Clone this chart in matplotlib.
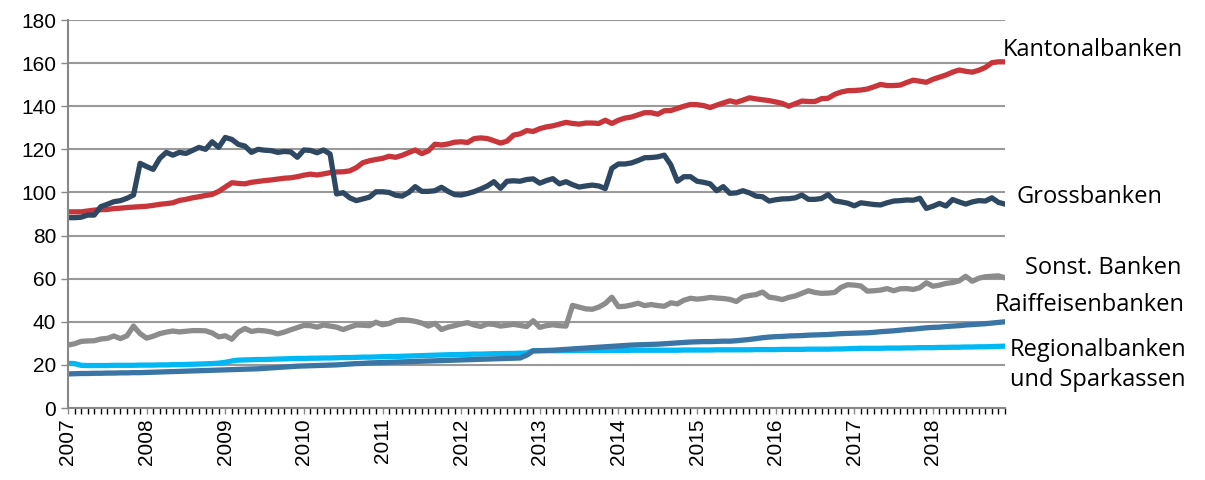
import numpy as np
import matplotlib
matplotlib.use('Agg')
import matplotlib.pyplot as plt

# monthly index values, Jan 2007 - Dec 2018
years = list(range(2007, 2019))

kantonal = [
    91, 91, 91, 91.4, 91.8, 92, 92.1, 92.5, 92.7, 93, 93.2, 93.4,
    93.6, 94, 94.5, 94.8, 95.2, 96.3, 96.8, 97.5, 98, 98.6, 99.1, 100.5,
    102.5, 104.5, 104.2, 104, 104.7, 105.1, 105.5, 105.8, 106.2, 106.6, 106.8, 107.3,
    108, 108.5, 108.1, 108.6, 109.2, 109.5, 109.6, 110, 111.5, 113.8, 114.7, 115.3,
    115.8, 116.8, 116.3, 117.2, 118.5, 119.7, 118, 119.3, 122.4, 122, 122.5, 123.3,
    123.5, 123.2, 125, 125.3, 125, 124, 122.9, 123.8, 126.6, 127.2, 128.7, 128.3,
    129.6, 130.4, 130.9, 131.7, 132.5, 132, 131.7, 132.2, 132.2, 132, 133.5, 132,
    133.5, 134.5, 135, 136, 137, 137, 136.3, 137.9, 138, 139, 140, 140.8,
    140.7, 140.3, 139.4, 140.5, 141.5, 142.5, 141.8, 142.8, 143.9, 143.4, 143, 142.6,
    142, 141.3, 140, 141.2, 142.4, 142.2, 142.2, 143.5, 143.7, 145.5, 146.6, 147.2,
    147.3, 147.5, 148, 149, 150.1, 149.6, 149.6, 149.8, 151, 152.1, 151.6, 151.1,
    152.5, 153.5, 154.5, 155.8, 156.8, 156.2, 155.8, 156.7, 158, 160.2, 160.6, 160.6,
]

gross = [
    88.3, 88.3, 88.5, 89.5, 89.5, 93.4, 94.5, 95.7, 96.2, 97.3, 98.8, 113.5,
    112, 110.7, 115.8, 118.6, 117.3, 118.6, 118.1, 119.5, 120.9, 120, 123.5, 120.9,
    125.5, 124.6, 122.3, 121.5, 118.6, 120, 119.6, 119.4, 118.6, 119, 118.8, 116.3,
    119.7, 119.5, 118.4, 119.7, 117.8, 99.3, 99.9, 97.5, 96.2, 97, 97.8, 100.3,
    100.3, 100, 98.7, 98.3, 100, 102.7, 100.5, 100.5, 100.8, 102.4, 100.5, 99,
    98.8, 99.5, 100.4, 101.6, 103, 105, 101.9, 105.2, 105.4, 105.2, 106, 106.3,
    104.3, 105.5, 106.4, 104, 105, 103.6, 102.5, 103, 103.4, 103, 101.8, 111.2,
    113.2, 113.2, 113.7, 114.8, 116.1, 116.2, 116.5, 117.3, 112.8, 105.2, 107.3, 107.3,
    105.2, 104.7, 104, 100.8, 102.7, 99.6, 99.8, 100.8, 99.8, 98.3, 98, 96,
    96.6, 97, 97.1, 97.5, 98.8, 96.8, 96.8, 97.2, 99, 96.1, 95.6, 95,
    93.8, 95.2, 94.8, 94.4, 94.2, 95.2, 96, 96.2, 96.5, 96.4, 97.3, 92.6,
    93.6, 94.9, 93.7, 96.7, 95.6, 94.6, 95.6, 96.2, 96, 97.5, 95.4, 94.6,
]

sonst = [
    29.2, 29.8, 30.9, 31.1, 31.2, 32, 32.3, 33.4, 32.2, 33.5, 38, 34.5,
    32.4, 33.3, 34.5, 35.2, 35.7, 35.3, 35.6, 35.9, 35.9, 35.8, 34.8, 33,
    33.5, 31.9, 35.2, 36.9, 35.5, 36, 35.8, 35.3, 34.4, 35.2, 36.3, 37.3,
    38.3, 38.2, 37.5, 38.5, 38, 37.5, 36.4, 37.5, 38.5, 38.4, 38.2, 39.8,
    38.6, 39.2, 40.5, 41, 40.7, 40.2, 39.4, 38, 39.3, 36.4, 37.5, 38.2,
    39, 39.6, 38.5, 37.8, 39, 38.8, 38, 38.4, 38.8, 38.3, 37.8, 40.5,
    37.4, 38.2, 38.6, 38.2, 38, 47.6, 46.8, 46, 45.8, 46.8, 48.5, 51.4,
    47, 47.2, 47.8, 48.6, 47.5, 48, 47.5, 47.2, 48.8, 48.3, 50, 50.9,
    50.5, 50.8, 51.3, 51, 50.8, 50.4, 49.4, 51.5, 52.2, 52.6, 53.8, 51.4,
    51, 50.3, 51.3, 52, 53.2, 54.4, 53.6, 53.2, 53.3, 53.6, 56, 57.2,
    57, 56.6, 54.2, 54.4, 54.7, 55.4, 54.4, 55.3, 55.4, 55, 55.8, 58.1,
    56.5, 57, 57.8, 58.2, 59, 61.1, 58.8, 60.2, 60.9, 61.1, 61.3, 60.4,
]

raiffeisen = [
    15.8, 15.9, 16, 16, 16.1, 16.1, 16.2, 16.2, 16.3, 16.3, 16.4, 16.4,
    16.5, 16.6, 16.7, 16.8, 16.9, 17, 17.1, 17.2, 17.3, 17.4, 17.5, 17.6,
    17.7, 17.8, 17.9, 18, 18.1, 18.2, 18.4, 18.6, 18.8, 19, 19.2, 19.4,
    19.5, 19.6, 19.7, 19.8, 19.9, 20, 20.2, 20.4, 20.6, 20.7, 20.9, 21,
    21.1, 21.2, 21.3, 21.4, 21.5, 21.6, 21.7, 21.8, 21.9, 22, 22.1, 22.2,
    22.3, 22.4, 22.5, 22.6, 22.7, 22.8, 22.9, 23, 23.1, 23.2, 24.5, 26.5,
    26.6, 26.7, 26.8, 27, 27.2, 27.4, 27.6, 27.8, 28, 28.2, 28.4, 28.6,
    28.8, 29, 29.2, 29.3, 29.4, 29.5, 29.6, 29.8, 30, 30.2, 30.4, 30.6,
    30.7, 30.8, 30.8, 30.9, 31, 31, 31.2, 31.5, 31.8, 32.2, 32.6, 32.9,
    33.1, 33.2, 33.4, 33.5, 33.6, 33.8, 33.9, 34, 34.1, 34.3, 34.5, 34.6,
    34.7, 34.8, 34.9, 35.1, 35.4, 35.6, 35.8, 36.1, 36.4, 36.6, 36.9, 37.2,
    37.4, 37.5, 37.8, 38, 38.2, 38.5, 38.7, 38.9, 39.1, 39.4, 39.7, 40,
]

regional = [
    20.7, 20.6, 19.8, 19.7, 19.7, 19.7, 19.7, 19.8, 19.8, 19.8, 19.8, 19.9,
    19.9, 19.9, 20, 20, 20.1, 20.1, 20.2, 20.3, 20.4, 20.5, 20.6, 20.8,
    21.2, 21.8, 22.2, 22.3, 22.4, 22.5, 22.5, 22.6, 22.7, 22.8, 22.9, 23,
    23, 23.1, 23.1, 23.2, 23.2, 23.3, 23.4, 23.4, 23.5, 23.6, 23.6, 23.7,
    23.8, 23.9, 23.9, 24, 24.1, 24.2, 24.3, 24.4, 24.5, 24.6, 24.7, 24.8,
    24.8, 24.9, 25, 25, 25.1, 25.2, 25.2, 25.3, 25.3, 25.4, 25.5, 26.6,
    26.6, 26.6, 26.6, 26.6, 26.6, 26.6, 26.7, 26.7, 26.7, 26.7, 26.7, 26.7,
    26.7, 26.7, 26.8, 26.8, 26.8, 26.8, 26.8, 26.8, 26.8, 26.8, 26.9, 26.9,
    26.9, 26.9, 26.9, 27, 27, 27, 27, 27, 27, 27.1, 27.1, 27.1,
    27.1, 27.2, 27.2, 27.2, 27.2, 27.3, 27.3, 27.3, 27.3, 27.4, 27.4, 27.5,
    27.6, 27.7, 27.7, 27.7, 27.7, 27.8, 27.8, 27.8, 27.9, 27.9, 28, 28,
    28, 28.1, 28.1, 28.2, 28.2, 28.3, 28.3, 28.4, 28.4, 28.5, 28.6, 28.7,
]

x = np.arange(len(kantonal))

fig = plt.figure(figsize=(12.05, 4.8), dpi=100)
ax = fig.add_axes([68 / 1205, 1 - 408 / 480, (1005 - 68) / 1205, (408 - 20) / 480])

ax.plot(x, sonst, color='#8c8c8c', lw=3.8, solid_joinstyle='round')
ax.plot(x, regional, color='#00b8f4', lw=3.8, solid_joinstyle='round')
ax.plot(x, raiffeisen, color='#3b75a6', lw=3.8, solid_joinstyle='round')
ax.plot(x, kantonal, color='#c8363b', lw=3.8, solid_joinstyle='round')
ax.plot(x, gross, color='#2e4862', lw=3.8, solid_joinstyle='round')

ax.set_xlim(0, len(x) - 1)
ax.set_ylim(0, 180)
ax.set_yticks(range(0, 181, 20))
ax.yaxis.grid(True, color='#999999', lw=1.5)
ax.set_axisbelow(True)

ax.set_xticks(np.arange(0, len(x), 12))
ax.set_xticklabels([str(y) for y in years], rotation=90)
ax.set_xticks(np.arange(0, len(x)), minor=True)

for s in ['top', 'right']:
    ax.spines[s].set_visible(False)
for s in ['left', 'bottom']:
    ax.spines[s].set_color('#888888')
    ax.spines[s].set_linewidth(1.5)

ax.tick_params(axis='both', labelsize=15, colors='#888888', labelcolor='black')
ax.tick_params(axis='x', which='both', direction='out', length=4, width=1)
ax.tick_params(axis='y', length=5, width=1)
for lab in ax.get_xticklabels() + ax.get_yticklabels():
    lab.set_family('Liberation Sans')

# series labels on the right
labels = [
    ('Kantonalbanken', 1003, 50),
    ('Grossbanken', 1017, 197),
    ('Sonst. Banken', 1025, 268),
    ('Raiffeisenbanken', 995, 305),
    ('Regionalbanken', 1010, 350),
    ('und Sparkassen', 1010, 380),
]
for txt, px, py in labels:
    fig.text(px / 1205, 1 - py / 480, txt, fontsize=17, family='Open Sans',
             va='center', ha='left')

fig.savefig('out.png', dpi=100)
